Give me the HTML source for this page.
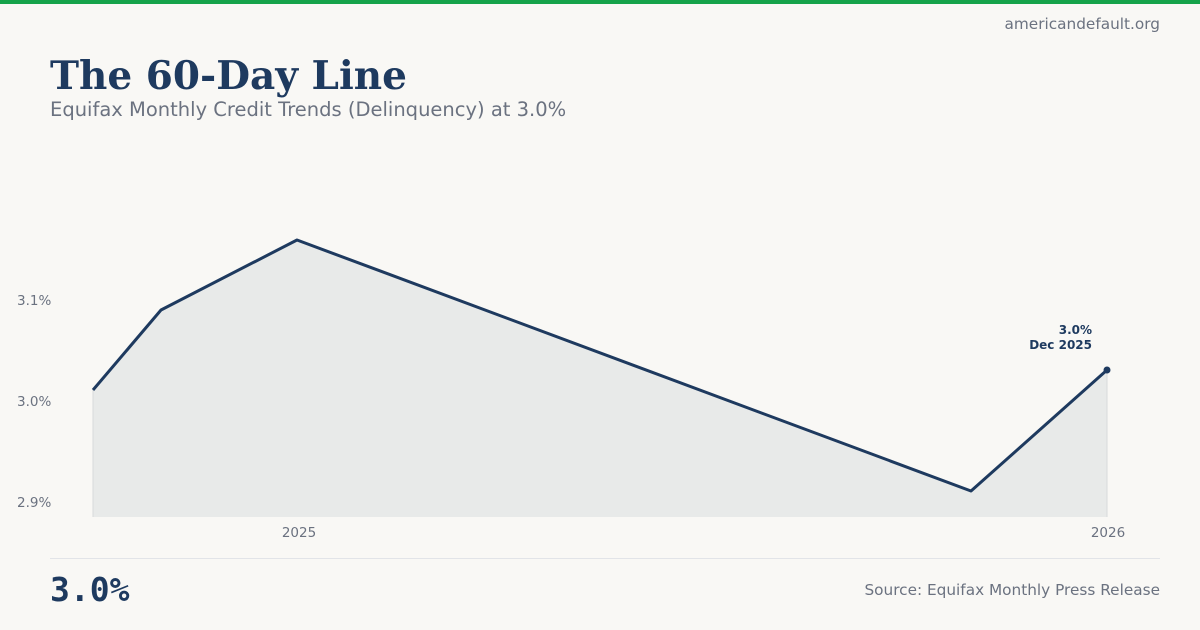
<!DOCTYPE html>
<html><head><meta charset="utf-8"><style>
body{margin:0;width:1200px;height:630px;background:#f9f8f5;position:relative;overflow:hidden;font-family:"DejaVu Sans",sans-serif}
.top{position:absolute;left:0;top:0;width:1200px;height:4px;background:#16a34a}
.site{position:absolute;right:40px;top:15px;font-size:15.3px;color:#6b7280}
h1{position:absolute;left:50px;top:57px;margin:0;font-family:"DejaVu Serif",serif;font-weight:bold;font-size:39px;color:#1e3a5f;line-height:1}
.sub{position:absolute;left:50px;top:98px;font-size:19.5px;color:#6b7280}
.hr{position:absolute;left:50px;top:558px;width:1110px;height:1px;background:#e2e4e8}
.big{position:absolute;left:50px;top:570px;font-family:"DejaVu Sans Mono",monospace;font-weight:bold;font-size:33px;color:#1e3a5f}
.src{position:absolute;right:40px;top:581px;font-size:15.3px;color:#6b7280}
svg{position:absolute;left:0;top:0}
</style></head><body>
<div class="top"></div>
<div class="site">americandefault.org</div>
<h1>The 60-Day Line</h1>
<div class="sub">Equifax Monthly Credit Trends (Delinquency) at 3.0%</div>
<svg width="1200" height="630" font-family="DejaVu Sans, sans-serif">
<polygon points="93,390 161,310 297,240 971,491 1107,370 1107,517 93,517" fill="#e8eae9"/>
<line x1="93" y1="390" x2="93" y2="517" stroke="#d8dadc"/>
<line x1="1107" y1="370" x2="1107" y2="517" stroke="#d8dadc"/>
<polyline points="93,390 161,310 297,240 971,491 1107,370" fill="none" stroke="#1e3a5f" stroke-width="3" stroke-linejoin="round"/>
<circle cx="1107" cy="370" r="3.5" fill="#1e3a5f"/>
<g font-size="13.5" fill="#6b7280">
<text x="17" y="305">3.1%</text>
<text x="17" y="406">3.0%</text>
<text x="17" y="507">2.9%</text>
<text x="299" y="537" text-anchor="middle">2025</text>
<text x="1108" y="537" text-anchor="middle">2026</text>
</g>
<g font-size="12" font-weight="bold" fill="#1e3a5f" text-anchor="end">
<text x="1092" y="334">3.0%</text>
<text x="1092" y="349">Dec 2025</text>
</g>
</svg>
<div class="hr"></div>
<div class="big">3.0%</div>
<div class="src">Source: Equifax Monthly Press Release</div>
</body></html>
